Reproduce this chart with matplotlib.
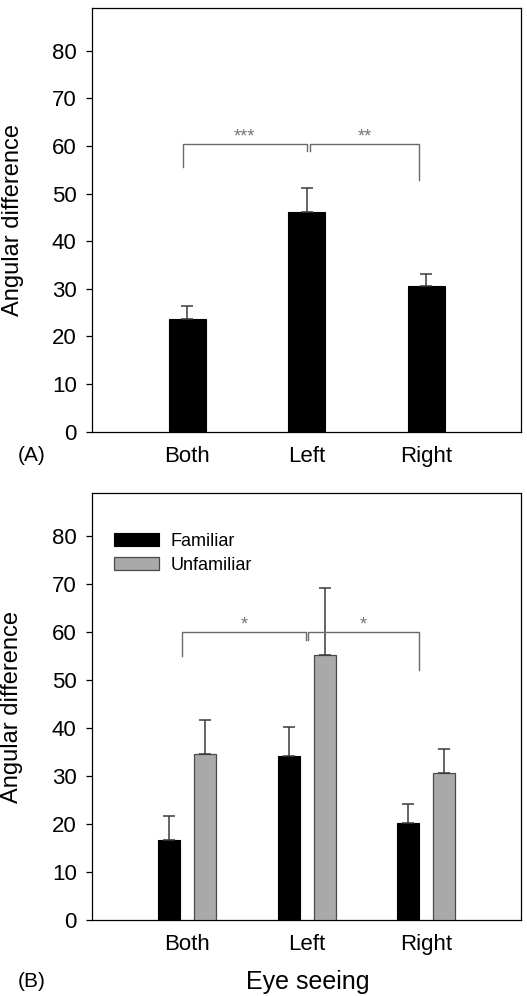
import matplotlib
matplotlib.use("Agg")
import matplotlib.pyplot as plt
import numpy as np

plt.rcParams['font.family'] = ['Liberation Sans', 'DejaVu Sans']

categories = ["Both", "Left", "Right"]
# Panel A
mean_a = [23.6, 46.2, 30.5]
err_a = [2.9, 4.9, 2.6]
# Panel B
familiar = [16.7, 34.2, 20.2]
familiar_err = [5.0, 6.0, 3.9]
unfamiliar = [34.7, 55.2, 30.6]
unfamiliar_err = [7.1, 14.0, 5.0]
yticks = [0, 10, 20, 30, 40, 50, 60, 70, 80]
stars_a = ["***", "**"]
stars_b = ["*", "*"]

W, H = 527, 996
fig = plt.figure(figsize=(W / 100, H / 100), dpi=100)

ax_a = fig.add_axes([92 / W, 1 - 431.7 / H, 428.7 / W, 423.7 / H])
ax_b = fig.add_axes([92 / W, 1 - 920 / H, 428.7 / W, 426.7 / H])

x = np.arange(len(categories))
err_kw = dict(ecolor="#3a3a3a", elinewidth=1.1, capsize=4.5, capthick=1.1)

# Panel A bars
ax_a.bar(x, mean_a, width=0.31, color="black", edgecolor="black", linewidth=0.8,
         yerr=[np.zeros(3), err_a], error_kw=err_kw, zorder=3)

# Panel B bars
off = 0.15
ax_b.bar(x - off, familiar, width=0.184, color="black", edgecolor="black", linewidth=0.8,
         yerr=[np.zeros(3), familiar_err], error_kw=err_kw, label="Familiar", zorder=3)
ax_b.bar(x + off, unfamiliar, width=0.184, color="#a9a9a9", edgecolor="#4a4a4a", linewidth=0.9,
         yerr=[np.zeros(3), unfamiliar_err], error_kw=err_kw, label="Unfamiliar", zorder=3)

for ax in (ax_a, ax_b):
    ax.set_xlim(-0.795, 2.79)
    ax.set_ylim(0, 89)
    ax.set_yticks(yticks)
    ax.set_xticks(x)
    ax.set_xticklabels(categories, fontsize=16)
    ax.tick_params(axis="x", length=0, pad=10)
    ax.tick_params(axis="y", direction="out", length=4, width=0.9, pad=7, labelsize=16)
    for s in ax.spines.values():
        s.set_linewidth(0.9)
        s.set_color("black")
    ax.set_ylabel("Angular difference", fontsize=17, labelpad=4)

ax_a.yaxis.set_label_coords(-0.158, 0.5)
ax_b.yaxis.set_label_coords(-0.160, 0.5)

def bracket(ax, ytop, yl, ym, yr, xl, xm1, xm2, xr, labels, ystar):
    c = "#6a6a6a"
    ax.plot([xl, xl, xm1, xm1], [yl, ytop, ytop, ym], color=c, lw=1.0, zorder=4)
    ax.plot([xm2, xm2, xr, xr], [ym, ytop, ytop, yr], color=c, lw=1.0, zorder=4)
    ax.text((xl + xm1) / 2, ystar, labels[0], ha="center", va="center", fontsize=13, color="#777777")
    ax.text((xm2 + xr) / 2, ystar, labels[1], ha="center", va="center", fontsize=13, color="#777777")

bracket(ax_a, 60.4, 55.7, 59.0, 52.9, -0.036, 1.0, 1.025, 1.94, stars_a, 61.9)
bracket(ax_b, 60.0, 55.0, 58.5, 52.2, -0.045, 0.995, 1.015, 1.94, stars_b, 61.5)

ax_b.legend(loc="upper left", bbox_to_anchor=(0.035, 0.925), frameon=False, fontsize=13,
            handlelength=2.5, handleheight=0.75, handletextpad=0.6, labelspacing=0.4,
            borderaxespad=0)

fig.text(31.7 / W, 1 - 455 / H, "(A)", fontsize=15, ha="center", va="center")
fig.text(31.7 / W, 1 - 981.7 / H, "(B)", fontsize=15, ha="center", va="center")
fig.text(308 / W, 1 - 981.7 / H, "Eye seeing", fontsize=18, ha="center", va="center")

fig.savefig("out.png", dpi=100)
